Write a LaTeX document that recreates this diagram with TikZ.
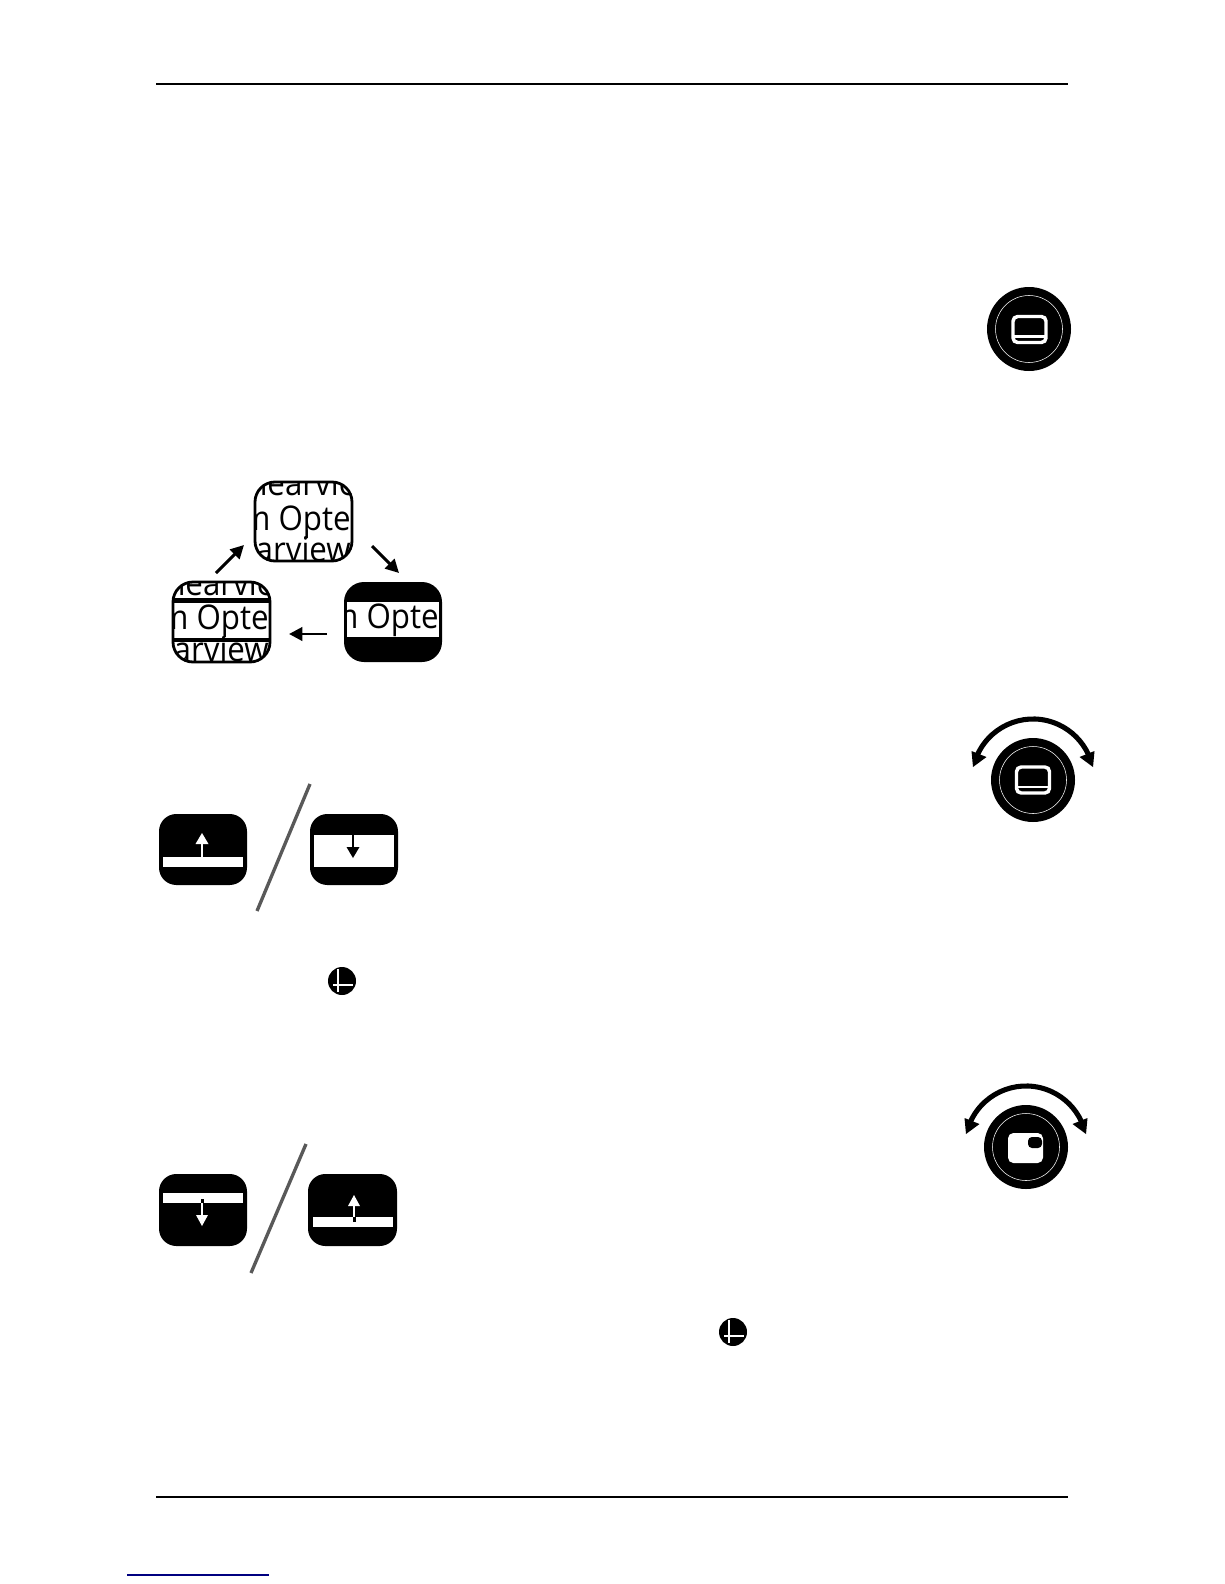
\documentclass[tikz,border=0pt]{standalone}
\usepackage{fontspec}
\setmainfont{Open Sans}
\newfontfamily\thumbfont[FakeStretch=0.92]{Open Sans}
\usetikzlibrary{arrows.meta}
\tikzset{
  px/.style={x=0.75pt,y=-0.75pt},
  rule/.style={line width=1pt,black},
  cyc/.style={line width=2.2pt,black,-{Triangle[length=10pt,width=10pt]}},
  thumb/.style={rounded corners=15pt},
  btn/.style={rounded corners=13pt,fill=black},
  slash/.style={line width=2.5pt,black!65},
  big/.style={inner sep=0pt,font=\thumbfont\fontsize{25.5}{25.5}\selectfont},
  ring/.style={draw=white,line width=0.4pt},
  dialicon/.style={draw=white,line width=2.6pt,rounded corners=3.5pt},
}
\newcommand{\dial}[2]{%
  \fill[black] (#1,#2) circle[radius=42];
  \draw[ring] (#1,#2) circle[radius=33.5];
}
\newcommand{\barsicon}[2]{%
  \begin{scope}[shift={(#1,#2)}]
    \draw[dialicon] (-16.5,-13) rectangle (16.5,13);
    \draw[white,line width=2.1pt] (-17,7) -- (17,7);
  \end{scope}
}
\newcommand{\swing}[2]{%
  \begin{scope}[shift={(#1,#2)}]
    \draw[black,line width=3.8pt] (-55.3,-25.8) arc[start angle=205,end angle=335,radius=61];
    \fill[black] (-60,-13) -- (-61.5,-29) -- (-46.5,-23) -- cycle;
    \fill[black] (60,-13) -- (61.5,-29) -- (46.5,-23) -- cycle;
  \end{scope}
}
\newcommand{\enterkey}[2]{%
  \begin{scope}[shift={(#1,#2)}]
    \fill[black] (0,0) circle[radius=14];
    \draw[white,line width=2pt] (-4,-12) -- (-4,11);
    \draw[white,line width=2pt] (-9,4) -- (11,4);
  \end{scope}
}
\begin{document}
\begin{tikzpicture}[px]
\useasboundingbox (0,0) rectangle (1224,1584);
\fill[white] (0,0) rectangle (1224,1584);

% rules
\coordinate (tl) at (156,84);  \coordinate (tr) at (1068,84);
\coordinate (bl) at (156,1497); \coordinate (br) at (1068,1497);
\coordinate (ul) at (127,1575); \coordinate (ur) at (269,1575);
\draw[rule] (tl) -- (tr);
\draw[rule] (bl) -- (br);
\draw[line width=1pt,blue!50!black] (ul) -- (ur);

% dial 1
\dial{1029}{329}
\barsicon{1029.5}{329.5}

% thumbnail top
\begin{scope}
  \clip[thumb] (255,482) rectangle (352,561);
  \node[big,anchor=base west] (ttop) at (248,495) {nearview};
  \node[big,anchor=base east] (tmid) at (351,530) {m Opte};
  \node[big,anchor=base east] (tbot) at (351,561) {arview};
\end{scope}
\draw[thumb,line width=2.1pt] (255,482) rectangle (352,561);

% thumbnail left
\begin{scope}
  \clip[thumb] (173,582) rectangle (270,662);
  \node[big,anchor=base west] (ltop) at (166,595) {nearview};
  \node[big,anchor=base east] (lmid) at (269,629) {m Opte};
  \node[big,anchor=base east] (lbot) at (269,661) {arview};
  \fill[black] (173,598) rectangle (270,603);
  \fill[black] (173,638) rectangle (270,642);
\end{scope}
\draw[thumb,line width=2.1pt] (173,582) rectangle (270,662);

% thumbnail right
\fill[thumb,black] (344,582) rectangle (442,662);
\fill[white] (347,602) rectangle (439,637);
\begin{scope}
  \clip (347,602) rectangle (439,637);
  \node[big,anchor=base east] (rmid) at (439,628) {m Opte};
\end{scope}

% cycle arrows
\coordinate (a1) at (216,573); \coordinate (a2) at (244,545);
\coordinate (b1) at (372,546); \coordinate (b2) at (399,573);
\coordinate (c1) at (327,634); \coordinate (c2) at (289,634);
\draw[cyc] (a1) -- (a2);
\draw[cyc] (b1) -- (b2);
\draw[cyc] (c1) -- (c2);

% dial 2
\dial{1033}{780}
\barsicon{1033}{780}
\swing{1033}{780}

% buttons row 1
\fill[btn] (159,814) rectangle (247,885);
\fill[white] (163,857) rectangle (243,867);
\fill[white] (201,844) rectangle (203.2,857);
\fill[white] (202,833) -- (208.5,844) -- (195.5,844) -- cycle;

\coordinate (s1a) at (310,784); \coordinate (s1b) at (257,911);
\draw[slash] (s1a) -- (s1b);

\fill[btn] (310,814) rectangle (398,885);
\fill[white] (314,835) rectangle (394,867);
\fill[black] (352,835) rectangle (354.2,847);
\fill[black] (353,858) -- (359.5,847) -- (346.5,847) -- cycle;

\enterkey{342}{981}

% dial 3
\dial{1026}{1147}
\fill[white,rounded corners=4pt] (1008,1133) rectangle (1043,1163);
\fill[black,rounded corners=3pt] (1028,1137) rectangle (1042,1148);
\swing{1026}{1147}

% buttons row 2
\fill[btn] (159,1174) rectangle (247,1246);
\fill[white] (163,1193) rectangle (243,1203);
\fill[black] (200.5,1199) rectangle (203.5,1203);
\fill[white] (201,1203) rectangle (203.2,1215);
\fill[white] (202,1226) -- (208,1215) -- (196,1215) -- cycle;

\coordinate (s2a) at (306,1144); \coordinate (s2b) at (251,1273);
\draw[slash] (s2a) -- (s2b);

\fill[btn] (308,1174) rectangle (397,1246);
\fill[white] (313,1217) rectangle (393,1227);
\fill[white] (353,1206) rectangle (355.2,1217);
\fill[black] (352.5,1217) rectangle (355.5,1222);
\fill[white] (354,1195) -- (360,1206) -- (348,1206) -- cycle;

\enterkey{733}{1332}
\end{tikzpicture}
\end{document}
